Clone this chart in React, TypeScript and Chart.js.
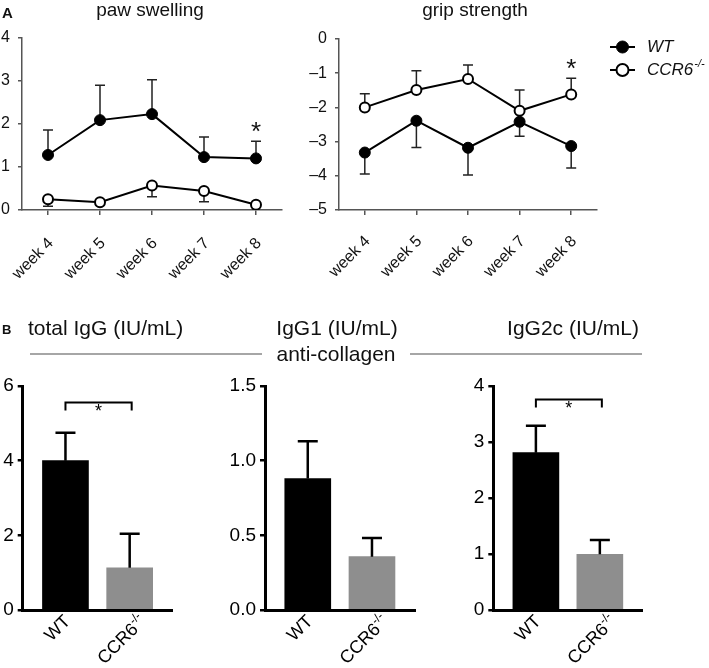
import React, { useEffect, useRef } from 'react';
import { Chart, registerables } from 'chart.js';

Chart.register(...registerables);

const FONT = '"Liberation Sans", Arial, Helvetica, sans-serif';
Chart.defaults.font.family = FONT;

// ---------- Panel A data ----------
const WEEKS = ['week 4', 'week 5', 'week 6', 'week 7', 'week 8'];
const PAW_WT = [1.28, 2.09, 2.23, 1.23, 1.2];
const PAW_WT_ERR = [0.58, 0.81, 0.8, 0.47, 0.4];
const PAW_KO = [0.25, 0.18, 0.57, 0.44, 0.12];
const PAW_KO_ERR = [0.16, 0.05, 0.26, 0.25, 0.05];
const PAW_SIG = ['week 8'];

const GRIP_WT = [-3.32, -2.39, -3.18, -2.42, -3.13];
const GRIP_WT_ERR = [0.63, 0.78, 0.8, 0.42, 0.64];
const GRIP_KO = [-2.0, -1.49, -1.17, -2.1, -1.62];
const GRIP_KO_ERR = [0.4, 0.56, 0.41, 0.61, 0.47];
const GRIP_SIG = ['week 8'];

const WT_LABEL = 'WT';
const KO_LABEL = 'CCR6';
const KO_SUP = '-/-';

// ---------- Panel B data ----------
const GROUPS = ['WT', 'CCR6'];
const GROUP_SUPS = ['', '-/-'];
const TOTAL_IGG = [4.0, 1.13];
const TOTAL_IGG_ERR = [0.75, 0.91];
const IGG1 = [0.88, 0.357];
const IGG1_ERR = [0.25, 0.125];
const IGG2C = [2.81, 0.995];
const IGG2C_ERR = [0.48, 0.255];
const TOTAL_IGG_BRACKET = 5.56;
const IGG2C_BRACKET = 3.76;

const BAR_COLORS = ['#000000', '#8e8e8e'];
const AX_A = '#555555';
const TXT = '#111111';

// ---------- helpers ----------
const fitY = (w: number) => (s: any) => {
  s.width = w;
  s.paddingTop = 0; s.paddingBottom = 0; s.paddingLeft = 0; s.paddingRight = 0;
};
const fitX = (h: number) => (s: any) => {
  s.height = h;
  s.paddingTop = 0; s.paddingBottom = 0; s.paddingLeft = 0; s.paddingRight = 0;
};

function drawErr(chart: any, opts: any) {
  const { ctx } = chart;
  const yS = chart.scales.y;
  chart.data.datasets.forEach((ds: any, di: number) => {
    if (!ds.err) return;
    const meta = chart.getDatasetMeta(di);
    ds.data.forEach((v: any, i: number) => {
      const val = typeof v === 'number' ? v : v.y;
      const e = ds.err[i];
      const el = meta.data[i];
      if (!el) return;
      const px = el.x;
      const p0 = yS.getPixelForValue(val);
      const p1 = yS.getPixelForValue(val + ds.errDir * e);
      ctx.save();
      ctx.strokeStyle = opts.color;
      ctx.lineWidth = opts.width;
      ctx.beginPath();
      ctx.moveTo(px, p0);
      ctx.lineTo(px, p1);
      ctx.moveTo(px - opts.cap / 2, p1);
      ctx.lineTo(px + opts.cap / 2, p1);
      ctx.stroke();
      const lbl = chart.data.labels ? chart.data.labels[i] : null;
      if (ds.sig && lbl != null && ds.sig.includes(lbl)) {
        ctx.fillStyle = TXT;
        ctx.font = opts.starFont;
        ctx.textAlign = 'center';
        ctx.textBaseline = 'alphabetic';
        ctx.fillText('*', px, p1 - 1);
      }
      ctx.restore();
    });
  });
}

const errPlugin = {
  id: 'errBars',
  beforeDatasetsDraw(chart: any, _a: any, opts: any) {
    if (opts.layer === 'before') drawErr(chart, opts);
  },
  afterDatasetsDraw(chart: any, _a: any, opts: any) {
    if (opts.layer !== 'before') drawErr(chart, opts);
  },
};

const bracketPlugin = {
  id: 'sigBracket',
  afterDatasetsDraw(chart: any, _a: any, opts: any) {
    if (!opts || opts.value == null) return;
    const { ctx } = chart;
    const meta = chart.getDatasetMeta(0);
    const x0 = meta.data[opts.from].x;
    const x1 = meta.data[opts.to].x + 2;
    const y = chart.scales.y.getPixelForValue(opts.value);
    ctx.save();
    ctx.strokeStyle = '#000';
    ctx.lineWidth = 2;
    ctx.beginPath();
    ctx.moveTo(x0, y + opts.leg);
    ctx.lineTo(x0, y);
    ctx.lineTo(x1, y);
    ctx.lineTo(x1, y + opts.leg);
    ctx.stroke();
    ctx.fillStyle = '#000';
    ctx.font = `18px ${FONT}`;
    ctx.textAlign = 'center';
    ctx.textBaseline = 'alphabetic';
    ctx.fillText('*', (x0 + x1) / 2, y + 15);
    ctx.restore();
  },
};

const groupLabelPlugin = {
  id: 'groupLabels',
  afterDraw(chart: any, _a: any, opts: any) {
    const { ctx } = chart;
    const meta = chart.getDatasetMeta(0);
    const axisY = chart.scales.x.top;
    GROUPS.forEach((txt, i) => {
      const sup = GROUP_SUPS[i] || '';
      const mainFont = `${opts.size}px ${FONT}`;
      const supFont = `${opts.supSize}px ${FONT}`;
      ctx.save();
      ctx.font = mainFont;
      const mw = ctx.measureText(txt).width;
      ctx.font = supFont;
      const sw = sup ? ctx.measureText(sup).width : 0;
      const L = mw + sw;
      const h = opts.size * 0.75;
      const mx = meta.data[i].x + opts.dx + 0.354 * L;
      const my = axisY + opts.dy + 0.354 * h;
      ctx.translate(mx, my);
      ctx.rotate(-Math.PI / 4);
      ctx.fillStyle = '#000';
      ctx.textBaseline = 'middle';
      ctx.textAlign = 'right';
      ctx.font = mainFont;
      ctx.fillText(txt, -sw, 0);
      if (sup) {
        ctx.font = supFont;
        ctx.textAlign = 'left';
        ctx.fillText(sup, -sw, -opts.size * 0.33);
      }
      ctx.restore();
    });
  },
};

const seriesLegendPlugin = {
  id: 'seriesLegend',
  afterDraw(chart: any, _a: any, opts: any) {
    const { ctx, chartArea } = chart;
    chart.data.datasets.forEach((ds: any, i: number) => {
      const y = chartArea.top + opts.top + i * opts.gap;
      const x0 = chartArea.right + opts.left;
      ctx.save();
      ctx.strokeStyle = ds.borderColor;
      ctx.lineWidth = 2;
      ctx.beginPath();
      ctx.moveTo(x0, y);
      ctx.lineTo(x0 + opts.len, y);
      ctx.stroke();
      ctx.beginPath();
      ctx.arc(x0 + opts.len / 2, y, opts.radius, 0, Math.PI * 2);
      ctx.fillStyle = ds.pointBackgroundColor;
      ctx.fill();
      ctx.lineWidth = ds.pointBorderWidth;
      ctx.strokeStyle = ds.pointBorderColor;
      ctx.stroke();
      ctx.fillStyle = TXT;
      ctx.font = `italic ${opts.size}px ${FONT}`;
      ctx.textAlign = 'left';
      ctx.textBaseline = 'middle';
      const tx = x0 + opts.len + opts.textGap;
      ctx.fillText(ds.label, tx, y);
      if (ds.sup) {
        const w = ctx.measureText(ds.label).width;
        ctx.font = `italic ${opts.supSize}px ${FONT}`;
        ctx.fillText(ds.sup, tx + w + 1, y - 6);
      }
      ctx.restore();
    });
  },
};

const dashFmt = (v: any) => (Number(v) < 0 ? '\u2013' + Math.abs(Number(v)) : String(v));

function lineConfig(p: any) {
  return {
    type: 'line',
    data: {
      labels: WEEKS,
      datasets: [
        {
          label: WT_LABEL, data: p.wt, err: p.wtErr, errDir: p.wtDir, sig: p.wtSig,
          borderColor: '#000', backgroundColor: '#000', borderWidth: 2, tension: 0,
          pointBackgroundColor: '#000', pointBorderColor: '#000', pointRadius: 5.5, pointBorderWidth: 1,
        },
        {
          label: KO_LABEL, sup: KO_SUP, data: p.ko, err: p.koErr, errDir: p.koDir, sig: p.koSig,
          borderColor: '#000', backgroundColor: '#fff', borderWidth: 2, tension: 0,
          pointBackgroundColor: '#fff', pointBorderColor: '#000', pointRadius: 5, pointBorderWidth: 2,
        },
      ],
    },
    options: {
      responsive: false, animation: false, devicePixelRatio: 1,
      layout: { padding: p.pad },
      plugins: {
        legend: { display: false }, title: { display: false }, tooltip: { enabled: false },
        errBars: { layer: 'before', color: '#222', width: 1.5, cap: 10, starFont: `26px ${FONT}` },
        seriesLegend: p.legend || false,
      },
      scales: {
        x: {
          type: 'category', offset: true,
          grid: { display: true, drawOnChartArea: false, drawTicks: true, tickLength: 5, color: AX_A, lineWidth: 1.5 },
          border: { color: AX_A, width: 1.5 },
          ticks: { font: { size: 16 }, color: TXT, minRotation: 45, maxRotation: 45, autoSkip: false, padding: p.xPad, labelOffset: 3 },
          afterFit: fitX(90),
        },
        y: {
          min: p.yMin, max: p.yMax,
          grid: { display: true, drawOnChartArea: false, drawTicks: true, tickLength: 4, color: AX_A, lineWidth: 1.5 },
          border: { color: AX_A, width: 1.5 },
          ticks: { stepSize: 1, font: { size: 16 }, color: TXT, padding: 8, callback: dashFmt },
          afterFit: fitY(p.yWidth),
        },
      },
    },
    plugins: p.legend ? [errPlugin, seriesLegendPlugin] : [errPlugin],
  };
}

function barConfig(p: any) {
  return {
    type: 'bar',
    data: {
      datasets: [
        {
          data: p.values.map((v: number, i: number) => ({ x: i, y: v })),
          err: p.errs, errDir: 1,
          backgroundColor: BAR_COLORS, borderWidth: 0, barThickness: 46,
        },
      ],
    },
    options: {
      responsive: false, animation: false, devicePixelRatio: 1,
      layout: { padding: p.pad },
      plugins: {
        legend: { display: false }, title: { display: false }, tooltip: { enabled: false },
        errBars: { layer: 'after', color: '#000', width: 2.5, cap: 20 },
        sigBracket: p.bracket != null ? { value: p.bracket, from: 0, to: 1, leg: 8 } : false,
        groupLabels: { size: 18, supSize: 12, dx: -7.5, dy: 4 },
      },
      scales: {
        x: {
          type: 'linear', min: -0.666, max: 1.67, offset: false, z: 1,
          grid: { display: false },
          border: { color: '#000', width: 3 },
          ticks: { display: false },
          afterFit: fitX(58),
        },
        y: {
          min: 0, max: p.yMax, z: 1,
          grid: { display: true, drawOnChartArea: false, drawTicks: true, tickLength: 5, color: '#000', lineWidth: 2.5 },
          border: { color: '#000', width: 3 },
          ticks: { stepSize: p.step, font: { size: 19 }, color: '#000', padding: 4, callback: p.fmt },
          afterFit: fitY(p.yWidth),
        },
      },
    },
    plugins: [errPlugin, bracketPlugin, groupLabelPlugin],
  };
}

function ChartBox({ left, top, width, height, build }: any) {
  const ref = useRef<HTMLCanvasElement>(null);
  useEffect(() => {
    const chart = new Chart(ref.current as HTMLCanvasElement, build());
    return () => chart.destroy();
  }, []);
  return (
    <canvas
      ref={ref}
      width={width}
      height={height}
      style={{ position: 'absolute', left, top, width, height }}
    />
  );
}

export default function App() {
  return (
    <div style={{ position: 'absolute', left: 0, top: 0, width: 709, height: 668, background: '#fff', fontFamily: FONT }}>
      <ChartBox
        left={0} top={0} width={295} height={300}
        build={() => lineConfig({
          wt: PAW_WT, wtErr: PAW_WT_ERR, wtDir: 1, wtSig: PAW_SIG,
          ko: PAW_KO, koErr: PAW_KO_ERR, koDir: -1, koSig: [],
          yMin: 0, yMax: 4, yWidth: 22, xPad: 19,
          pad: { top: 38, right: 13, bottom: 0, left: 0 },
        })}
      />
      <ChartBox
        left={290} top={0} width={419} height={300}
        build={() => lineConfig({
          wt: GRIP_WT, wtErr: GRIP_WT_ERR, wtDir: -1, wtSig: [],
          ko: GRIP_KO, koErr: GRIP_KO_ERR, koDir: 1, koSig: GRIP_SIG,
          yMin: -5, yMax: 0, yWidth: 49, xPad: 17,
          pad: { top: 39, right: 112, bottom: 0, left: 0 },
          legend: { top: 8, gap: 23, left: 13, len: 25, radius: 6, textGap: 12, size: 17, supSize: 11 },
        })}
      />
      <ChartBox
        left={0} top={370} width={200} height={298}
        build={() => barConfig({
          values: TOTAL_IGG, errs: TOTAL_IGG_ERR, yMax: 6, step: 2, fmt: (v: any) => String(v),
          yWidth: 22.7, bracket: TOTAL_IGG_BRACKET,
          pad: { top: 16, right: 27.3, bottom: 0, left: 0 },
        })}
      />
      <ChartBox
        left={215} top={370} width={215} height={298}
        build={() => barConfig({
          values: IGG1, errs: IGG1_ERR, yMax: 1.5, step: 0.5, fmt: (v: any) => Number(v).toFixed(1),
          yWidth: 50, bracket: null,
          pad: { top: 16, right: 15, bottom: 0, left: 0 },
        })}
      />
      <ChartBox
        left={440} top={370} width={225} height={298}
        build={() => barConfig({
          values: IGG2C, errs: IGG2C_ERR, yMax: 4, step: 1, fmt: (v: any) => String(v),
          yWidth: 53.3, bracket: IGG2C_BRACKET,
          pad: { top: 16, right: 22.3, bottom: 0, left: 0 },
        })}
      />
      <svg
        width={709}
        height={668}
        style={{ position: 'absolute', left: 0, top: 0, pointerEvents: 'none' }}
        fontFamily={FONT}
        fill={TXT}
      >
        <text x={2} y={18} fontSize={15} fontWeight="bold">A</text>
        <text x={150} y={16} fontSize={19} textAnchor="middle">paw swelling</text>
        <text x={475} y={16} fontSize={19} textAnchor="middle">grip strength</text>
        <text x={2} y={333.5} fontSize={13} fontWeight="bold">B</text>
        <text x={28} y={335} fontSize={21}>total IgG (IU/mL)</text>
        <text x={337} y={335} fontSize={21} textAnchor="middle">IgG1 (IU/mL)</text>
        <text x={573} y={335} fontSize={21} textAnchor="middle">IgG2c (IU/mL)</text>
        <line x1={30} y1={354} x2={262} y2={354} stroke="#a6a6a6" strokeWidth={2} />
        <line x1={410} y1={354} x2={642} y2={354} stroke="#a6a6a6" strokeWidth={2} />
        <text x={336} y={361} fontSize={21} textAnchor="middle">anti-collagen</text>
      </svg>
    </div>
  );
}
